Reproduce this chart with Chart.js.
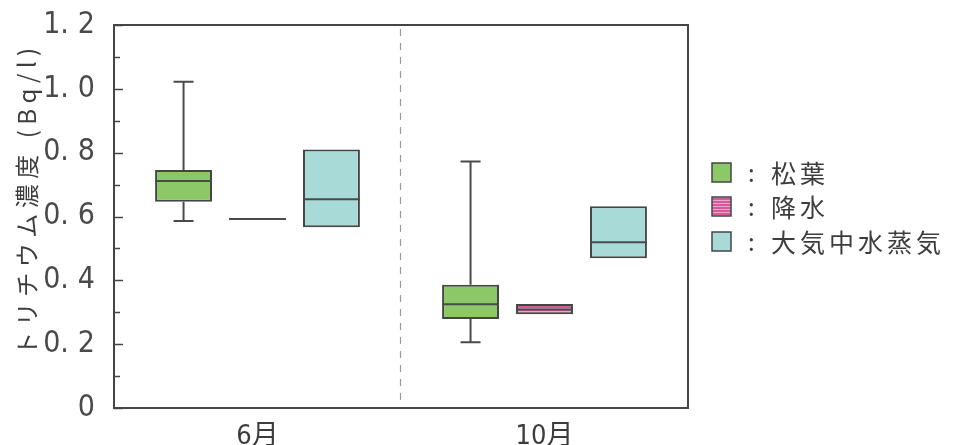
<!DOCTYPE html>
<html>
<head>
<meta charset="utf-8">
<script src="https://cdn.jsdelivr.net/npm/chart.js@4/dist/chart.umd.min.js"></script>
<style>
  html, body { margin: 0; padding: 0; background: #ffffff; }
  canvas { display: block; }
</style>
</head>
<body>
<canvas id="chart" width="956" height="445"></canvas>
<script>
// Sampling months and sample types
const months = ['6月', '10月'];
const seriesNames = ['松葉', '降水', '大気中水蒸気'];

// Box statistics (Bq/l), one value per month
const pineMin    = [0.586, 0.206];
const pineQ1     = [0.646, 0.279];
const pineMedian = [0.711, 0.325];
const pineQ3     = [0.746, 0.386];
const pineMax    = [1.022, 0.772];

const rainMin    = [0.592, 0.294];
const rainQ1     = [0.592, 0.294];
const rainMedian = [0.592, 0.309];
const rainQ3     = [0.592, 0.326];
const rainMax    = [0.592, 0.326];

const vaporMin    = [0.566, 0.469];
const vaporQ1     = [0.566, 0.469];
const vaporMedian = [0.654, 0.519];
const vaporQ3     = [0.810, 0.632];
const vaporMax    = [0.810, 0.632];

// Y axis tick labels (0 to 1.2 in steps of 0.2)
const yTickLabels = ['0', '0.\u20042', '0.\u20044', '0.\u20046', '0.\u20048', '1.\u20040', '1.\u20042'];
const yTitle = 'トリチウム濃度 (Bq/l)';

const numFont = '"Liberation Sans Narrow", "DejaVu Sans Condensed", "Noto Sans CJK JP", sans-serif';
const jpFont = '"Noto Sans CJK JP", "Noto Sans", sans-serif';
const inkColor = '#3c3c3c';

// striped pink fill used for precipitation
function stripePattern() {
  const c = document.createElement('canvas');
  c.width = 4; c.height = 3;
  const g = c.getContext('2d');
  g.fillStyle = '#d45a9c';
  g.fillRect(0, 0, 4, 3);
  g.fillStyle = '#eaa6cb';
  g.fillRect(0, 2, 4, 1);
  return g.createPattern(c, 'repeat');
}

const stats = [
  { min: pineMin,  q1: pineQ1,  med: pineMedian,  q3: pineQ3,  max: pineMax },
  { min: rainMin,  q1: rainQ1,  med: rainMedian,  q3: rainQ3,  max: rainMax },
  { min: vaporMin, q1: vaporQ1, med: vaporMedian, q3: vaporQ3, max: vaporMax }
];
const fills = ['#8dc868', stripePattern(), '#a8dbd8'];

const datasets = stats.map((s, k) => ({
  label: seriesNames[k],
  data: months.map((_, i) => [s.q1[i], s.q3[i]]),
  backgroundColor: fills[k],
  borderColor: '#454545',
  borderWidth: 2,
  borderSkipped: false
}));

// whiskers, medians, frame, inward ticks, divider, axis title and key
const boxPlotExtras = {
  id: 'boxPlotExtras',
  beforeDatasetsDraw(chart) {
    const { ctx, chartArea: a, scales: { x } } = chart;
    // dashed separator between the two months
    const mid = (x.getPixelForValue(0) + x.getPixelForValue(1)) / 2;
    ctx.save();
    ctx.strokeStyle = '#9a9a9a';
    ctx.lineWidth = 1.2;
    ctx.setLineDash([7, 7]);
    ctx.beginPath();
    ctx.moveTo(Math.round(mid) - 0.5, a.top + 4);
    ctx.lineTo(Math.round(mid) - 0.5, a.bottom);
    ctx.stroke();
    ctx.restore();
  },
  afterDatasetsDraw(chart) {
    const { ctx, scales: { y } } = chart;
    ctx.save();
    ctx.strokeStyle = '#4a4a4a';
    ctx.lineWidth = 2;
    stats.forEach((s, k) => {
      const meta = chart.getDatasetMeta(k);
      meta.data.forEach((bar, i) => {
        const cx = bar.x, hw = bar.width / 2;
        const capW = 10;
        // median line
        const ym = y.getPixelForValue(s.med[i]);
        ctx.beginPath();
        ctx.moveTo(cx - hw, ym);
        ctx.lineTo(cx + hw, ym);
        ctx.stroke();
        // upper whisker
        if (s.max[i] > s.q3[i]) {
          const y3 = y.getPixelForValue(s.q3[i]);
          const yt = y.getPixelForValue(s.max[i]);
          ctx.beginPath();
          ctx.moveTo(cx, y3); ctx.lineTo(cx, yt);
          ctx.moveTo(cx - capW, yt); ctx.lineTo(cx + capW, yt);
          ctx.stroke();
        }
        // lower whisker
        if (s.min[i] < s.q1[i]) {
          const y1 = y.getPixelForValue(s.q1[i]);
          const yb = y.getPixelForValue(s.min[i]);
          ctx.beginPath();
          ctx.moveTo(cx, y1); ctx.lineTo(cx, yb);
          ctx.moveTo(cx - capW, yb); ctx.lineTo(cx + capW, yb);
          ctx.stroke();
        }
      });
    });
    ctx.restore();
  },
  afterDraw(chart) {
    const { ctx, chartArea: a, scales: { y } } = chart;
    ctx.save();
    // plot frame
    ctx.strokeStyle = '#454545';
    ctx.lineWidth = 2;
    ctx.strokeRect(a.left, a.top, a.right - a.left, a.bottom - a.top);
    // inward ticks on the value axis: major every 0.2, minor every 0.1
    ctx.lineWidth = 1.5;
    for (let v = 0; v <= 12; v++) {
      const py = Math.round(y.getPixelForValue(v / 10)) + 0.5;
      const len = v % 2 === 0 ? 9 : 6;
      ctx.beginPath();
      ctx.moveTo(a.left, py);
      ctx.lineTo(a.left + len, py);
      ctx.stroke();
    }
    // axis title
    ctx.fillStyle = inkColor;
    ctx.font = '24px ' + jpFont;
    ctx.letterSpacing = '5.5px';
    ctx.textAlign = 'center';
    ctx.textBaseline = 'middle';
    ctx.translate(27, 199);
    ctx.rotate(-Math.PI / 2);
    ctx.fillText(yTitle, 0, 0);
    ctx.restore();

    // key
    ctx.save();
    const rows = [173, 207, 242];
    seriesNames.forEach((name, k) => {
      const ry = rows[k];
      ctx.fillStyle = fills[k];
      ctx.fillRect(712, ry - 10, 19, 19);
      ctx.strokeStyle = '#454545';
      ctx.lineWidth = 1.5;
      ctx.strokeRect(712, ry - 10, 19, 19);
      ctx.fillStyle = inkColor;
      ctx.textBaseline = 'middle';
      ctx.textAlign = 'left';
      ctx.font = '24px ' + jpFont;
      ctx.letterSpacing = '0px';
      ctx.fillText(':', 748, ry);
      ctx.letterSpacing = '4px';
      ctx.font = '25px ' + jpFont;
      ctx.fillText(name, 771, ry);
    });
    ctx.restore();
  }
};

new Chart(document.getElementById('chart'), {
  type: 'bar',
  data: { labels: months, datasets },
  options: {
    responsive: false,
    animation: false,
    devicePixelRatio: 1,
    layout: { padding: { top: 25, right: 268, left: 0, bottom: 0 } },
    categoryPercentage: 0.773,
    barPercentage: 0.77,
    plugins: { legend: { display: false }, tooltip: { enabled: false } },
    scales: {
      x: {
        grid: { display: false },
        border: { display: false },
        ticks: {
          color: inkColor,
          padding: 5,
          font: { family: numFont, size: 27 }
        },
        afterFit(scale) { scale.height = 37; }
      },
      y: {
        min: 0,
        max: 1.2,
        grid: { display: false },
        border: { display: false },
        ticks: {
          stepSize: 0.2,
          color: '#4a4a4a',
          padding: 11,
          font: { family: numFont, size: 30, lineHeight: 0.9 },
          callback: (v, i) => yTickLabels[i]
        },
        afterFit(scale) { scale.width = 114; }
      }
    }
  },
  plugins: [boxPlotExtras]
});
</script>
</body>
</html>
